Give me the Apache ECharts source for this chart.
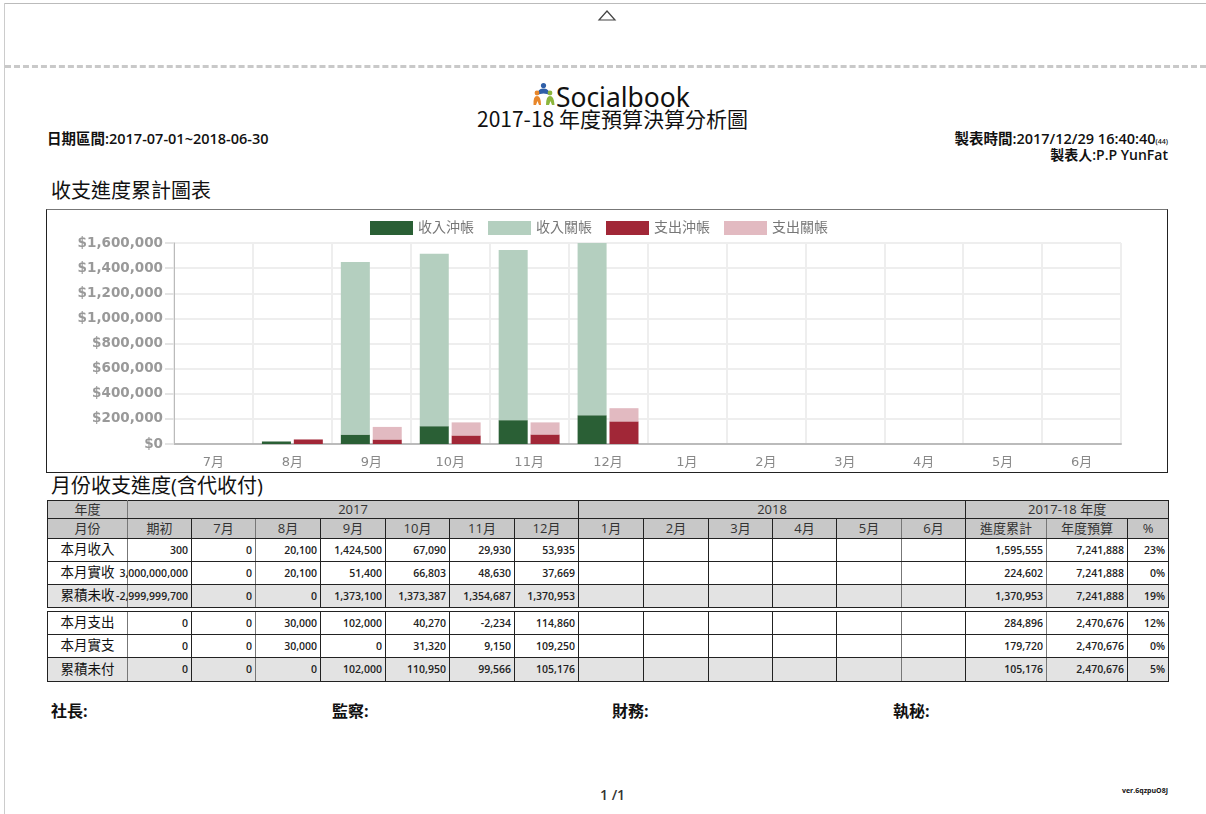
<!DOCTYPE html>
<html>
<head>
<meta charset="utf-8">
<script src="https://cdn.jsdelivr.net/npm/echarts@6/dist/echarts.min.js"></script>
<style>
    html, body { margin: 0; padding: 0; background: #fff; }
    body { width: 1206px; height: 814px; position: relative; overflow: hidden; font-family: "Open Sans", "Noto Sans CJK TC", sans-serif; color: #111; }
    .abs { position: absolute; white-space: nowrap; line-height: 1; }
    #chart { position: absolute; left: 46px; top: 209px; width: 1120px; height: 262px; border: 1px solid #222; border-top-color: #777; }
    #report { position: absolute; left: 47px; top: 500px; width: 1121px; border-collapse: collapse; table-layout: fixed; font-size: 13px; line-height: 1; }
    #report td { border: 1px solid #222; padding: 0; text-align: center; overflow: visible; white-space: nowrap; }
    #report .head td { background: #c8c8c8; color: #333; }
    #report .gray td { background: #e3e3e3; }
    #report .label { font-size: 13.5px; }
    #report .num { display: flex; justify-content: flex-end; padding-right: 3px; font-size: 10.5px; font-weight: 600; color: #222; }
    #report .gap td { height: 3px; border-left: 0; border-right: 0; }
    #report tr:not(.gap) td:nth-child(1) { border-right-color: #777; }
    #report tr.cols td:nth-child(3), #report tr.cols td:nth-child(13), #report tr.cols td:nth-child(15) { border-right-color: #777; }
</style>
</head>
<body>
<div class="abs" style="left:5px;top:3px;width:1201px;height:1px;background:#bbb"></div>
<div class="abs" style="left:4px;top:3px;width:1px;height:811px;background:#ccc"></div>
<div class="abs" style="left:5px;top:65px;width:1201px;height:0;border-top:3px dashed #c9c9c9"></div>
<svg class="abs" style="left:597px;top:9px" width="20" height="13"><path d="M2 11 L10 2 L18 11 Z" fill="#fff" stroke="#444" stroke-width="1.2"/></svg>

<svg class="abs" style="left:531px;top:82px" width="26" height="26">
    <circle cx="12.5" cy="3.5" r="2.6" fill="#2f5fa8"/><path d="M6 13 Q7 6 12.5 6.5 Q18 6 19 13 Q12.5 10 6 13 Z" fill="#2f5fa8"/>
    <circle cx="6" cy="11" r="2.4" fill="#e8872b"/><path d="M2.5 23 Q2 14 6 14 Q10 14 10 23 L8 23 L6.5 19 L5 23 Z" fill="#e8872b"/>
    <circle cx="19" cy="11" r="2.4" fill="#8cb63c"/><path d="M15 23 Q15 14 19 14 Q23 14 23.5 23 L21 23 L19.5 19 L18 23 Z" fill="#8cb63c"/>
</svg>
<div class="abs" style="left:556px;top:84px;font-size:26.4px;font-family:'Noto Sans',sans-serif">Socialbook</div>
<div class="abs" style="left:477px;top:108px;font-size:21px;font-family:'Noto Sans CJK TC',sans-serif">2017-18 年度預算決算分析圖</div>
<div class="abs" style="left:47px;top:132px;font-size:14.5px;font-weight:600">日期區間:2017-07-01~2018-06-30</div>
<div class="abs" style="right:38px;top:132px;font-size:14.5px;font-weight:600">製表時間:2017/12/29 16:40:40<span style="font-size:7px">(44)</span></div>
<div class="abs" style="right:38px;top:148px;font-size:14px;font-weight:600">製表人:P.P YunFat</div>
<div class="abs" style="left:51px;top:181px;font-size:20px">收支進度累計圖表</div>
<div id="chart"></div>
<div class="abs" style="left:51px;top:476px;font-size:20px">月份收支進度(含代收付)</div>
<table id="report"></table>
<div class="abs" style="left:51px;top:703px;font-size:16px;font-weight:700">社長:</div>
<div class="abs" style="left:332px;top:703px;font-size:16px;font-weight:700">監察:</div>
<div class="abs" style="left:612px;top:703px;font-size:16px;font-weight:700">財務:</div>
<div class="abs" style="left:893px;top:703px;font-size:16px;font-weight:700">執秘:</div>
<div class="abs" style="left:600px;top:788px;font-size:14px;font-weight:600;color:#333">1 /1</div>
<div class="abs" style="right:38px;top:787px;font-size:7px;font-weight:700">ver.6qzpuO8J</div>

<script>
const months = ['7月', '8月', '9月', '10月', '11月', '12月', '1月', '2月', '3月', '4月', '5月', '6月'];

// Chart values
const incomeSettled = [0, 20000, 75000, 142000, 190000, 229000, 0, 0, 0, 0, 0, 0];
const incomeClosed = [0, 0, 1373100, 1373387, 1354687, 1370953, 0, 0, 0, 0, 0, 0];
const expenseSettled = [0, 36000, 36000, 68000, 76000, 180000, 0, 0, 0, 0, 0, 0];
const expenseClosed = [0, 0, 100000, 104000, 96000, 105000, 0, 0, 0, 0, 0, 0];

// Table rows
const rowIncome = ['本月收入', '300', '0', '20,100', '1,424,500', '67,090', '29,930', '53,935', '1,595,555', '7,241,888', '23%'];
const rowReceived = ['本月實收', '3,000,000,000', '0', '20,100', '51,400', '66,803', '48,630', '37,669', '224,602', '7,241,888', '0%'];
const rowUnreceived = ['累積未收', '-2,999,999,700', '0', '0', '1,373,100', '1,373,387', '1,354,687', '1,370,953', '1,370,953', '7,241,888', '19%'];
const rowExpense = ['本月支出', '0', '0', '30,000', '102,000', '40,270', '-2,234', '114,860', '284,896', '2,470,676', '12%'];
const rowPaid = ['本月實支', '0', '0', '30,000', '0', '31,320', '9,150', '109,250', '179,720', '2,470,676', '0%'];
const rowUnpaid = ['累積未付', '0', '0', '0', '102,000', '110,950', '99,566', '105,176', '105,176', '2,470,676', '5%'];
const colWidths = [80, 64, 64, 65, 65, 64, 65, 64, 65, 65, 64, 64, 65, 64, 81, 81, 41];

function loadTable() {
    const cells = row => {
        const first = '<td class="label">' + row[0] + '</td>';
        const left = row.slice(1, 8).map(v => '<td><div class="num">' + v + '</div></td>').join('');
        const empty = '<td></td>'.repeat(6);
        const right = row.slice(8).map(v => '<td><div class="num">' + v + '</div></td>').join('');
        return first + left + empty + right;
    };
    const tr = (row, height, gray) => '<tr class="cols' + (gray ? ' gray' : '') + '" style="height:' + height + 'px">' + cells(row) + '</tr>';

    let html = '<colgroup>' + colWidths.map(w => '<col style="width:' + w + 'px">').join('') + '</colgroup>';
    html += '<tr class="head" style="height:18px"><td>年度</td><td colspan="7">2017</td><td colspan="6">2018</td><td colspan="3">2017-18 年度</td></tr>';
    html += '<tr class="head cols" style="height:20px"><td>月份</td><td>期初</td>' +
        months.map(m => '<td>' + m + '</td>').join('') +
        '<td>進度累計</td><td>年度預算</td><td>%</td></tr>';
    html += tr(rowIncome, 23) + tr(rowReceived, 23) + tr(rowUnreceived, 23, true);
    html += '<tr class="gap"><td colspan="17"></td></tr>';
    html += tr(rowExpense, 23) + tr(rowPaid, 23) + tr(rowUnpaid, 24, true);
    document.getElementById('report').innerHTML = html;
}

function loadChart() {
    const chart = echarts.init(document.getElementById('chart'));
    const legendNames = ['收入沖帳', '收入關帳', '支出沖帳', '支出關帳'];
    const colors = ['#2a5f35', '#b4cfbf', '#a12737', '#e2bac1'];
    const values = [incomeSettled, incomeClosed, expenseSettled, expenseClosed];
    const stacks = ['income', 'income', 'expense', 'expense'];

    chart.setOption({
        animation: false,
        textStyle: { fontFamily: '"DejaVu Sans", "Noto Sans CJK TC", sans-serif' },
        legend: {
            data: legendNames,
            left: 318,
            top: 6,
            itemWidth: 43,
            itemHeight: 14,
            itemGap: 14,
            icon: 'rect',
            textStyle: { color: '#777', fontSize: 14 }
        },
        grid: { left: 127, right: 46, top: 33, bottom: 28 },
        xAxis: {
            type: 'category',
            data: months,
            axisLine: { lineStyle: { color: '#bbb', width: 2 } },
            axisTick: { length: 9, lineStyle: { color: '#e4e4e4', width: 2 } },
            axisLabel: { color: '#888', fontSize: 13, margin: 12, interval: 0 },
            splitLine: { show: true, interval: 0, lineStyle: { color: '#eeeeee', width: 2 } }
        },
        yAxis: {
            type: 'value',
            min: 0,
            max: 1600000,
            interval: 200000,
            axisLine: { show: true, lineStyle: { color: '#bbb' } },
            axisTick: { show: true, length: 9, lineStyle: { color: '#e4e4e4', width: 2 } },
            axisLabel: {
                color: '#999',
                fontSize: 13.5,
                fontWeight: 'bold',
                margin: 11,
                formatter: v => '$' + v.toLocaleString('en-US')
            },
            splitLine: { show: true, lineStyle: { color: '#eeeeee', width: 2 } }
        },
        series: legendNames.map((name, i) => ({
            name: name,
            type: 'bar',
            stack: stacks[i],
            data: values[i],
            barWidth: 29,
            barGap: '10%',
            itemStyle: { color: colors[i] }
        }))
    });
}

document.addEventListener('DOMContentLoaded', () => {
    loadTable();
    loadChart();
});
</script>
</body>
</html>
